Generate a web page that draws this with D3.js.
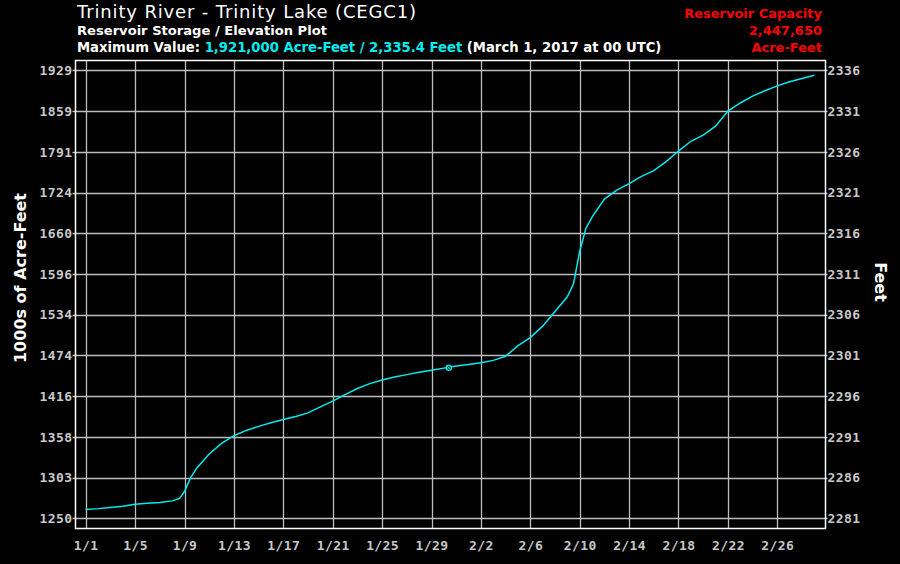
<!DOCTYPE html>
<html><head><meta charset="utf-8">
<script src="https://cdn.jsdelivr.net/npm/d3@7"></script>
<style>
html,body{margin:0;padding:0;background:#000;}
svg{display:block;}
</style></head>
<body>
<svg id="chart" width="900" height="564"></svg>
<script>
// ---- data ----
const titleText = "Trinity River - Trinity Lake (CEGC1)";
const subtitleText = "Reservoir Storage / Elevation Plot";
const maxPrefix = "Maximum Value: ";
const maxValueText = "1,921,000 Acre-Feet / 2,335.4 Feet";
const maxSuffix = " (March 1, 2017 at 00 UTC)";
const capacityLines = ["Reservoir Capacity", "2,447,650", "Acre-Feet"];

// elevation gridlines (feet) and the matching storage labels (1000s acre-feet)
const elevTicks   = [2281, 2286, 2291, 2296, 2301, 2306, 2311, 2316, 2321, 2326, 2331, 2336];
const storageTicks = [1250, 1303, 1358, 1416, 1474, 1534, 1596, 1660, 1724, 1791, 1859, 1929];

// date ticks (every 4 days from Jan 1, 2017)
const dateTickLabels = ["1/1","1/5","1/9","1/13","1/17","1/21","1/25","1/29","2/2","2/6","2/10","2/14","2/18","2/22","2/26"];

// series: days since Jan 1 2017 00 UTC, reservoir elevation (feet)
const dayOffsets = [0,1,2,3,4,5,6,7,7.6,8,8.5,9,10,11,12,13,14,15,16,17,18,19,20,21,22,23,24,25,26,27,28,29,30,31,32,33,34,35,36,37,38,39,39.5,40,40.5,41,42,43,44,45,46,47,48,49,50,51,52,53,54,55,56,57,58,59];
const elevations = [2282.1,2282.2,2282.35,2282.5,2282.75,2282.85,2282.95,2283.15,2283.45,2284.3,2286.0,2287.2,2288.9,2290.2,2291.15,2291.8,2292.3,2292.75,2293.15,2293.5,2293.95,2294.7,2295.4,2296.2,2296.95,2297.55,2297.98,2298.35,2298.65,2298.95,2299.2,2299.45,2299.7,2299.9,2300.1,2300.4,2300.9,2302.2,2303.2,2304.6,2306.4,2308.2,2309.8,2313.8,2316.6,2318.0,2320.2,2321.3,2322.1,2323.0,2323.7,2324.8,2326.1,2327.3,2328.05,2329.15,2331.0,2332.0,2332.85,2333.5,2334.1,2334.6,2335.0,2335.4];
const markerDay = 29.4;
const markerElev = 2299.5;

// ---- layout ----
const svg = d3.select("#chart");
const plot = {left: 75.5, right: 825.5, top: 60.5, bottom: 528.5};
const DAY = 86400000;
const t0 = Date.UTC(2017, 0, 1);

const x = d3.scaleUtc()
  .domain([new Date(t0), new Date(t0 + 56 * DAY)])
  .range([85.7, 777.3]);
const y = d3.scaleLinear()
  .domain([2281, 2336])
  .range([518.4, 70.4]);

const gridColor = "#bdbdbd";
const tickColor = "#c8c8c8";
const cyan = "#00ecf0";

svg.append("rect").attr("width", 900).attr("height", 564).attr("fill", "#000");

// gridlines
const dateTicks = dateTickLabels.map((d, i) => new Date(t0 + i * 4 * DAY));
svg.append("g").selectAll("line").data(dateTicks).join("line")
  .attr("x1", d => Math.round(x(d)) + 0.5).attr("x2", d => Math.round(x(d)) + 0.5)
  .attr("y1", plot.top).attr("y2", plot.bottom)
  .attr("stroke", gridColor).attr("stroke-width", 1.3);
svg.append("g").selectAll("line").data(elevTicks).join("line")
  .attr("x1", plot.left - 3).attr("x2", plot.right + 2)
  .attr("y1", d => Math.round(y(d)) + 0.5).attr("y2", d => Math.round(y(d)) + 0.5)
  .attr("stroke", gridColor).attr("stroke-width", 1.3);

// plot border
svg.append("rect")
  .attr("x", plot.left).attr("y", plot.top)
  .attr("width", plot.right - plot.left).attr("height", plot.bottom - plot.top)
  .attr("fill", "none").attr("stroke", "#fff").attr("stroke-width", 1.5);

// axes labels via d3 axes
const yLeft = d3.axisLeft(y).tickValues(elevTicks)
  .tickFormat((d, i) => storageTicks[i]).tickSize(0).tickPadding(3);
const gL = svg.append("g").attr("transform", `translate(${plot.left},0)`).call(yLeft);
const yRight = d3.axisRight(y).tickValues(elevTicks).tickFormat(d => d).tickSize(0).tickPadding(2);
const gR = svg.append("g").attr("transform", `translate(${plot.right},0)`).call(yRight);
const xAxis = d3.axisBottom(x).tickValues(dateTicks)
  .tickFormat((d, i) => dateTickLabels[i]).tickSize(0).tickPadding(12);
const gX = svg.append("g").attr("transform", `translate(0,${plot.bottom})`).call(xAxis);
[gL, gR, gX].forEach(g => {
  g.select(".domain").remove();
  g.selectAll("text")
    .attr("fill", tickColor)
    .style("font-family", "'DejaVu Sans Mono', monospace")
    .style("font-weight", "bold")
    .style("font-size", "13px")
    .style("letter-spacing", "0.4px");
});

// series line
const series = dayOffsets.map((d, i) => ({date: new Date(t0 + d * DAY), v: elevations[i]}));
const line = d3.line().x(d => x(d.date)).y(d => y(d.v));
svg.append("path").datum(series)
  .attr("d", line).attr("fill", "none")
  .attr("stroke", cyan).attr("stroke-width", 1.5);

// marker
const mx = x(new Date(t0 + markerDay * DAY)), my = y(markerElev);
svg.append("circle").attr("cx", mx).attr("cy", my).attr("r", 2.6)
  .attr("fill", "#000").attr("stroke", cyan).attr("stroke-width", 1.3);
svg.append("path").attr("d", `M${mx-1.6},${my-1.6}L${mx+1.6},${my+1.6}M${mx-1.6},${my+1.6}L${mx+1.6},${my-1.6}`)
  .attr("stroke", cyan).attr("stroke-width", 1);

// titles
const sans = "'DejaVu Sans', Verdana, sans-serif";
svg.append("text").attr("x", 77).attr("y", 18)
  .style("font-family", sans).style("font-size", "18px").style("letter-spacing", "0.85px").attr("fill", "#fff")
  .text(titleText);
svg.append("text").attr("x", 77).attr("y", 35)
  .style("font-family", sans).style("font-size", "13.1px").style("font-weight", "bold").attr("fill", "#fff")
  .text(subtitleText);
const l3 = svg.append("text").attr("x", 77).attr("y", 52)
  .style("font-family", sans).style("font-size", "13.2px").style("font-weight", "bold").attr("fill", "#fff");
l3.append("tspan").text(maxPrefix);
l3.append("tspan").attr("fill", cyan).text(maxValueText);
l3.append("tspan").text(maxSuffix);

svg.append("g").selectAll("text").data(capacityLines).join("text")
  .attr("x", 822).attr("y", (d, i) => 18 + i * 17)
  .attr("text-anchor", "end")
  .style("font-family", sans).style("font-size", "13px").style("font-weight", "bold")
  .attr("fill", "#ff0000").text(d => d);

// axis titles
svg.append("text")
  .attr("transform", "translate(26,278) rotate(-90)")
  .attr("text-anchor", "middle")
  .style("font-family", sans).style("font-size", "16px").style("font-weight", "bold")
  .attr("fill", "#fff").text("1000s of Acre-Feet");
svg.append("text")
  .attr("transform", "translate(875,282) rotate(90)")
  .attr("text-anchor", "middle")
  .style("font-family", sans).style("font-size", "16px").style("font-weight", "bold")
  .attr("fill", "#fff").text("Feet");
</script>
</body></html>
